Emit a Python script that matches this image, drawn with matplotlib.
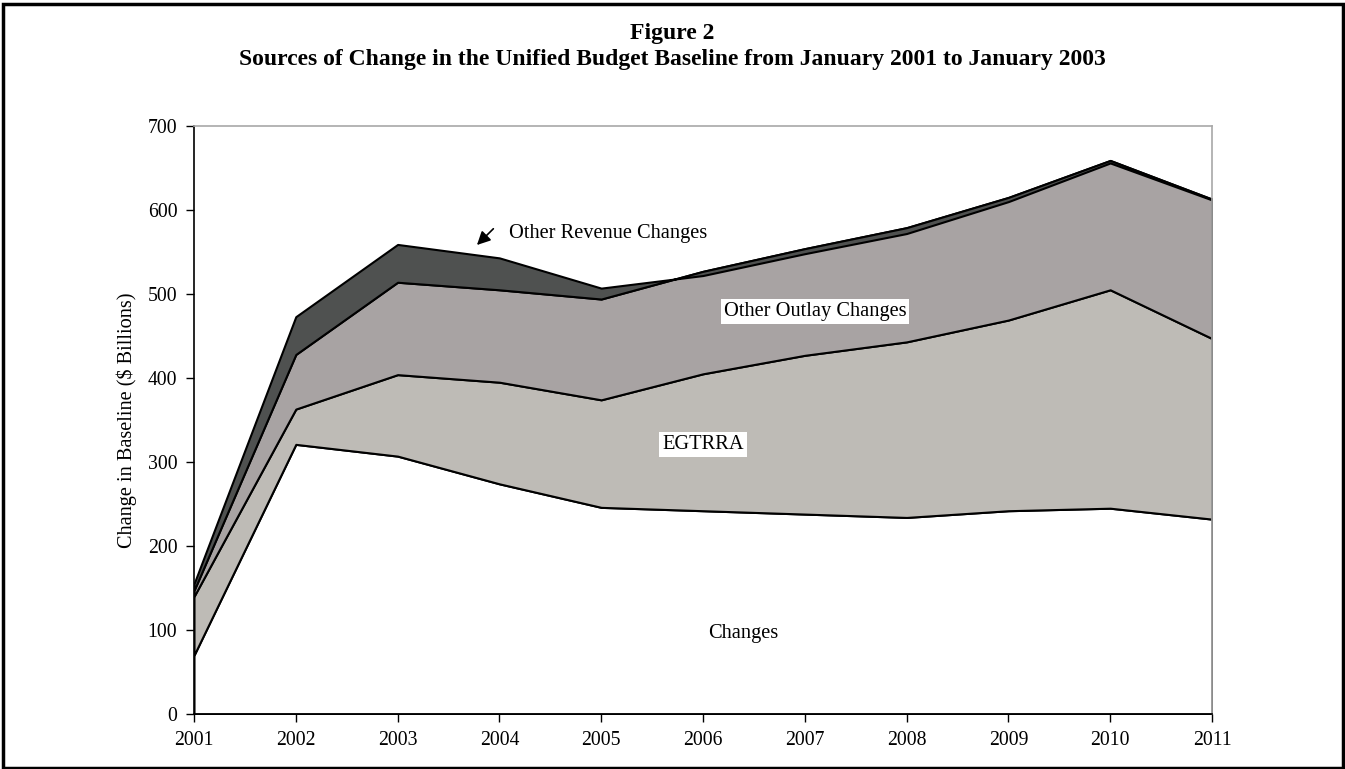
import matplotlib
matplotlib.use("Agg")
import matplotlib.pyplot as plt
from matplotlib.patches import Rectangle

plt.rcParams['font.family'] = ['Liberation Serif', 'DejaVu Serif']

years = [2001, 2002, 2003, 2004, 2005, 2006, 2007, 2008, 2009, 2010, 2011]

# $ billions, stacked bottom to top
changes = [70, 321, 307, 274, 246, 242, 238, 234, 242, 245, 232]
egtrra = [70, 42, 97, 121, 128, 163, 189, 209, 227, 260, 215]
other_outlay = [7, 65, 110, 110, 120, 122, 127, 136, 146, 154, 166]
other_revenue = [8, 45, 45, 38, 13, -5, -6, -7, -5, -3, -1]

layer_colors = ['#ffffff', '#bebbb6', '#a8a3a3', '#4f5150']

fig = plt.figure(figsize=(13.45, 7.69), dpi=100)
ax = fig.add_axes([194 / 1345, 1 - 714 / 769, (1212 - 194) / 1345, (714 - 126) / 769])

ax.stackplot(years, changes, egtrra, other_outlay, other_revenue,
             colors=layer_colors, edgecolor='black', linewidth=1.5)

ax.set_xlim(2001, 2011)
ax.set_ylim(0, 700)
ax.set_xticks(years)
ax.set_xticklabels([str(y) for y in years])
ax.set_yticks(range(0, 701, 100))
ax.tick_params(axis='both', direction='out', length=6, width=1, labelsize=14.2, pad=6)
ax.set_ylabel('Change in Baseline ($ Billions)', fontsize=14.6, labelpad=8)

for side in ['top', 'right']:
    ax.spines[side].set_color('#a8a8a8')
    ax.spines[side].set_linewidth(1.2)
for side in ['left', 'bottom']:
    ax.spines[side].set_color('black')
    ax.spines[side].set_linewidth(1.2)

# layer labels
ax.text(2005.07, 572, 'Other Revenue Changes', fontsize=14.7, ha='center', va='center')
ax.annotate('', xy=(2003.76, 556), xytext=(2003.96, 580),
            arrowprops=dict(arrowstyle='-|>', color='black', lw=1.2, mutation_scale=20))
ax.text(2007.1, 479, 'Other Outlay Changes', fontsize=14.7, ha='center', va='center',
        bbox=dict(facecolor='white', edgecolor='none', pad=2))
ax.text(2006.0, 321, 'EGTRRA', fontsize=14.7, ha='center', va='center',
        bbox=dict(facecolor='white', edgecolor='none', pad=2))
ax.text(2006.4, 96, 'Changes', fontsize=14.7, ha='center', va='center')

fig.text(0.5, 1 - 33 / 769, 'Figure 2', fontsize=17, fontweight='bold', ha='center', va='center')
fig.text(0.5, 1 - 60 / 769,
         'Sources of Change in the Unified Budget Baseline from January 2001 to January 2003',
         fontsize=17, fontweight='bold', ha='center', va='center')

fig.patches.append(Rectangle((2.5 / 1345, 1.5 / 769), 1340.5 / 1345, 764 / 769,
                             transform=fig.transFigure, fill=False,
                             edgecolor='black', linewidth=2.5))

fig.savefig('out.png', dpi=100)
